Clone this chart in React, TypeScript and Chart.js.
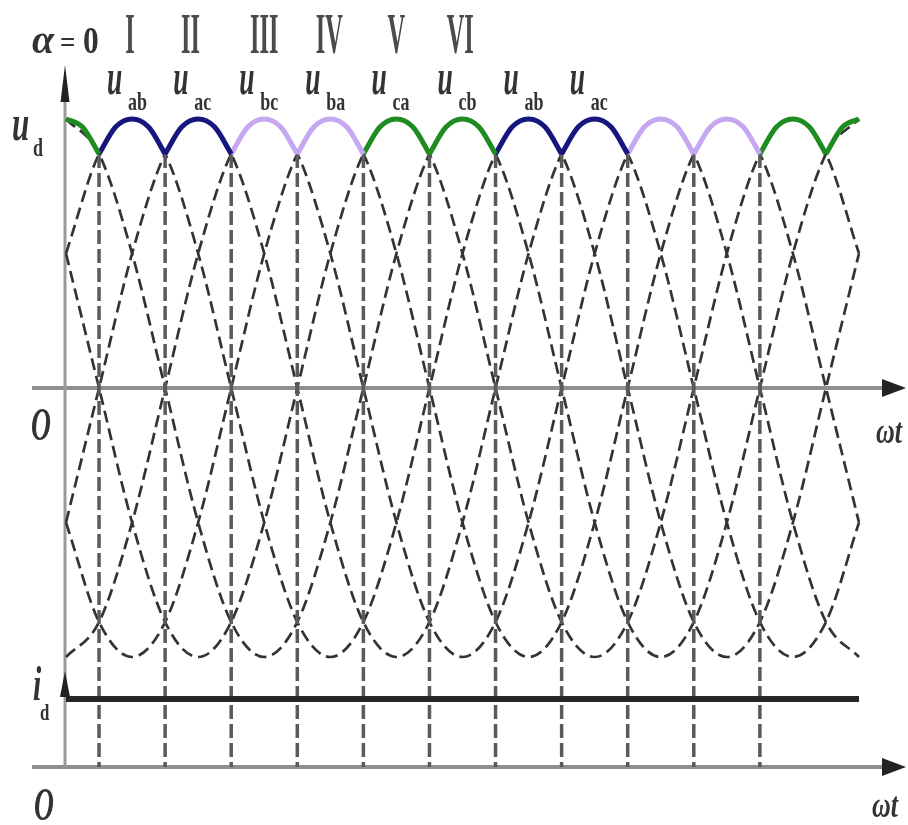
import React, { useEffect, useRef } from 'react';
import { Chart, registerables } from 'chart.js';

Chart.register(...registerables);

// ωt sample positions (degrees), every 30°
const angleDeg = [0, 30, 60, 90, 120, 150, 180, 210, 240, 270, 300, 330, 360, 390, 420, 450, 480, 510, 540, 570, 600, 630, 660, 690, 720];

// Six line voltages (normalised to their peak), read at the 30° grid
const u_ab = [0.5, 0.87, 1, 0.87, 0.5, 0, -0.5, -0.87, -1, -0.87, -0.5, 0, 0.5, 0.87, 1, 0.87, 0.5, 0, -0.5, -0.87, -1, -0.87, -0.5, 0, 0.5];
const u_ac = [-0.5, 0, 0.5, 0.87, 1, 0.87, 0.5, 0, -0.5, -0.87, -1, -0.87, -0.5, 0, 0.5, 0.87, 1, 0.87, 0.5, 0, -0.5, -0.87, -1, -0.87, -0.5];
const u_bc = [-1, -0.87, -0.5, 0, 0.5, 0.87, 1, 0.87, 0.5, 0, -0.5, -0.87, -1, -0.87, -0.5, 0, 0.5, 0.87, 1, 0.87, 0.5, 0, -0.5, -0.87, -1];
const u_ba = [-0.5, -0.87, -1, -0.87, -0.5, 0, 0.5, 0.87, 1, 0.87, 0.5, 0, -0.5, -0.87, -1, -0.87, -0.5, 0, 0.5, 0.87, 1, 0.87, 0.5, 0, -0.5];
const u_ca = [0.5, 0, -0.5, -0.87, -1, -0.87, -0.5, 0, 0.5, 0.87, 1, 0.87, 0.5, 0, -0.5, -0.87, -1, -0.87, -0.5, 0, 0.5, 0.87, 1, 0.87, 0.5];
const u_cb = [1, 0.87, 0.5, 0, -0.5, -0.87, -1, -0.87, -0.5, 0, 0.5, 0.87, 1, 0.87, 0.5, 0, -0.5, -0.87, -1, -0.87, -0.5, 0, 0.5, 0.87, 1];

// Output voltage u_d: one arc per 60° conduction interval
const udPeakDeg = [0, 60, 120, 180, 240, 300, 360, 420, 480, 540, 600, 660, 720];
const udPeakPhase = ['cb', 'ab', 'ac', 'bc', 'ba', 'ca', 'cb', 'ab', 'ac', 'bc', 'ba', 'ca', 'cb'];
const udArcOffsetDeg = [-30, -15, 0, 15, 30];
const udArcValues = [0.87, 0.97, 1, 0.97, 0.87];

// Natural commutation points
const commutationDeg = [30, 90, 150, 210, 270, 330, 390, 450, 510, 570, 630];
const commutationValue = 0.87;

// Load current i_d (constant) and the level of the i_d time axis
const idLevel = -1.156;
const idAxisLevel = -1.409;

// Labels
const peakLabelDeg = [60, 120, 180, 240, 300, 360, 420, 480];
const peakLabelSub = ['ab', 'ac', 'bc', 'ba', 'ca', 'cb', 'ab', 'ac'];
const romanNumerals = ['I', 'II', 'III', 'IV', 'V', 'VI'];
const romanDeg = [58, 113, 180, 239, 300, 358];

const phaseColor: Record<string, string> = {
  ab: '#16167f', ac: '#16167f',
  bc: '#c7a6f2', ba: '#c7a6f2',
  ca: '#1f8c22', cb: '#1f8c22',
};

const W = 908;
const H = 825;
const ZERO_PX = 388;
const AMP_PX = 269;

function drawText(ctx: CanvasRenderingContext2D, text: string, x: number, y: number, font: string, sx: number, color: string) {
  ctx.save();
  ctx.translate(x, y);
  ctx.scale(sx, 1);
  ctx.font = font;
  ctx.fillStyle = color;
  ctx.textAlign = 'left';
  ctx.textBaseline = 'alphabetic';
  ctx.fillText(text, 0, 0);
  ctx.restore();
}

const decorPlugin = {
  id: 'decor',
  beforeDatasetsDraw(chart: any) {
    const ctx: CanvasRenderingContext2D = chart.ctx;
    const xs = chart.scales.x;
    const ys = chart.scales.y;
    const x0 = xs.getPixelForValue(0) - 1;
    const xEnd = xs.getPixelForValue(720);
    const yZero = ys.getPixelForValue(0);
    const yLow = ys.getPixelForValue(idAxisLevel);
    ctx.save();
    ctx.strokeStyle = '#8f8f8f';
    ctx.lineWidth = 4;
    ctx.beginPath();
    ctx.moveTo(32, yZero); ctx.lineTo(xEnd + 26, yZero);
    ctx.moveTo(32, yLow); ctx.lineTo(xEnd + 26, yLow);
    ctx.stroke();
    ctx.lineWidth = 3;
    ctx.strokeStyle = '#9a9a9a';
    ctx.beginPath();
    ctx.moveTo(x0, 90); ctx.lineTo(x0, yLow);
    ctx.stroke();
    ctx.restore();
  },
  afterDatasetsDraw(chart: any) {
    const ctx: CanvasRenderingContext2D = chart.ctx;
    const xs = chart.scales.x;
    const ys = chart.scales.y;
    const x0 = xs.getPixelForValue(0) - 1;
    const xEnd = xs.getPixelForValue(720);
    const yZero = ys.getPixelForValue(0);
    const yLow = ys.getPixelForValue(idAxisLevel);
    const yId = ys.getPixelForValue(idLevel);
    ctx.save();
    ctx.fillStyle = '#222';
    // vertical arrow (u_d)
    ctx.beginPath();
    ctx.moveTo(x0, 65); ctx.lineTo(x0 + 4.5, 102); ctx.lineTo(x0 - 4.5, 102); ctx.closePath(); ctx.fill();
    // vertical arrow (i_d)
    ctx.beginPath();
    ctx.moveTo(x0, yId - 28); ctx.lineTo(x0 + 5, yId - 2); ctx.lineTo(x0 - 5, yId - 2); ctx.closePath(); ctx.fill();
    // horizontal arrows
    for (const yy of [yZero, yLow]) {
      ctx.beginPath();
      ctx.moveTo(xEnd + 47, yy); ctx.lineTo(xEnd + 23, yy - 9); ctx.lineTo(xEnd + 23, yy + 9); ctx.closePath(); ctx.fill();
    }
    ctx.restore();

    const serif = '"Liberation Serif", "DejaVu Serif", serif';
    const col = '#333';
    // α = 0  and numerals
    drawText(ctx, 'α', 32, 53, `italic bold 40px ${serif}`, 1.0, col);
    drawText(ctx, '=', 60, 52, `bold 30px ${serif}`, 0.9, col);
    drawText(ctx, '0', 83, 53, `bold 37px ${serif}`, 0.85, col);
    romanNumerals.forEach((r, i) => {
      ctx.save();
      ctx.font = `bold 58px ${serif}`;
      const w = ctx.measureText(r).width * 0.42;
      ctx.restore();
      drawText(ctx, r, xs.getPixelForValue(romanDeg[i]) - w / 2, 53, `bold 58px ${serif}`, 0.42, '#4a4a4a');
    });
    // u labels above peaks
    peakLabelDeg.forEach((d, i) => {
      const px = xs.getPixelForValue(d);
      drawText(ctx, 'u', px - 25, 94, `italic bold 50px ${serif}`, 0.55, col);
      drawText(ctx, peakLabelSub[i], px - 4, 110, `bold 25px ${serif}`, 0.72, col);
    });
    // u_d
    drawText(ctx, 'u', 12, 140, `italic bold 50px ${serif}`, 0.62, col);
    drawText(ctx, 'd', 33, 156, `bold 25px ${serif}`, 0.72, col);
    // origins and ωt
    drawText(ctx, 'O', 31, yZero + 52, `italic bold 46px ${serif}`, 0.6, col);
    drawText(ctx, 'O', 34, yLow + 53, `italic bold 46px ${serif}`, 0.6, col);
    drawText(ctx, 'ωt', 876, yZero + 55, `italic bold 36px ${serif}`, 0.72, col);
    drawText(ctx, 'ωt', 872, yLow + 50, `italic bold 36px ${serif}`, 0.72, col);
    // i_d
    drawText(ctx, 'i', 33, yId + 1, `italic bold 48px ${serif}`, 0.62, col);
    drawText(ctx, 'd', 40, yId + 21, `bold 24px ${serif}`, 0.7, col);
  },
};

export default function App() {
  const ref = useRef<HTMLCanvasElement | null>(null);

  useEffect(() => {
    if (!ref.current) return;
    const toXY = (vals: number[]) => vals.map((v, i) => ({ x: angleDeg[i], y: v }));
    const dashed = [u_ab, u_ac, u_bc, u_ba, u_ca, u_cb].map((vals) => ({
      data: toXY(vals),
      borderColor: '#333333',
      borderWidth: 2.7,
      borderDash: [12, 6],
      cubicInterpolationMode: 'monotone' as const,
      pointRadius: 0,
      clip: false as const,
      order: 4,
    }));
    const verticals = commutationDeg.map((d) => ({
      data: [{ x: d, y: commutationValue }, { x: d, y: idAxisLevel }],
      borderColor: '#5a5a5a',
      borderWidth: 3.5,
      borderDash: [14, 5],
      pointRadius: 0,
      clip: false as const,
      order: 3,
    }));
    const idLine = {
      data: [{ x: 0, y: idLevel }, { x: 720, y: idLevel }],
      borderColor: '#262626',
      borderWidth: 6,
      pointRadius: 0,
      clip: false as const,
      order: 2,
    };
    const arcs = udPeakDeg.map((p, i) => ({
      data: udArcOffsetDeg
        .map((o, k) => ({ x: p + o, y: udArcValues[k] }))
        .filter((pt) => pt.x >= 0 && pt.x <= 720),
      borderColor: phaseColor[udPeakPhase[i]],
      borderWidth: 5,
      cubicInterpolationMode: 'monotone' as const,
      pointRadius: 0,
      clip: false as const,
      borderCapStyle: 'butt' as const,
      order: 0,
    }));

    const chart = new Chart(ref.current, {
      type: 'line',
      data: { datasets: [...arcs, idLine, ...verticals, ...dashed] as any },
      options: {
        animation: false,
        responsive: false,
        events: [],
        layout: { padding: { left: 66, right: 49, top: 0, bottom: 0 } },
        plugins: { legend: { display: false }, tooltip: { enabled: false }, title: { display: false } },
        scales: {
          x: { type: 'linear', min: 0, max: 720, display: false },
          y: { type: 'linear', min: (ZERO_PX - H) / AMP_PX, max: ZERO_PX / AMP_PX, display: false },
        },
      },
      plugins: [decorPlugin],
    });
    return () => chart.destroy();
  }, []);

  return (
    <div style={{ position: 'absolute', left: 0, top: 0, width: W, height: H, background: '#fff' }}>
      <canvas ref={ref} width={W} height={H} style={{ display: 'block' }} />
    </div>
  );
}
